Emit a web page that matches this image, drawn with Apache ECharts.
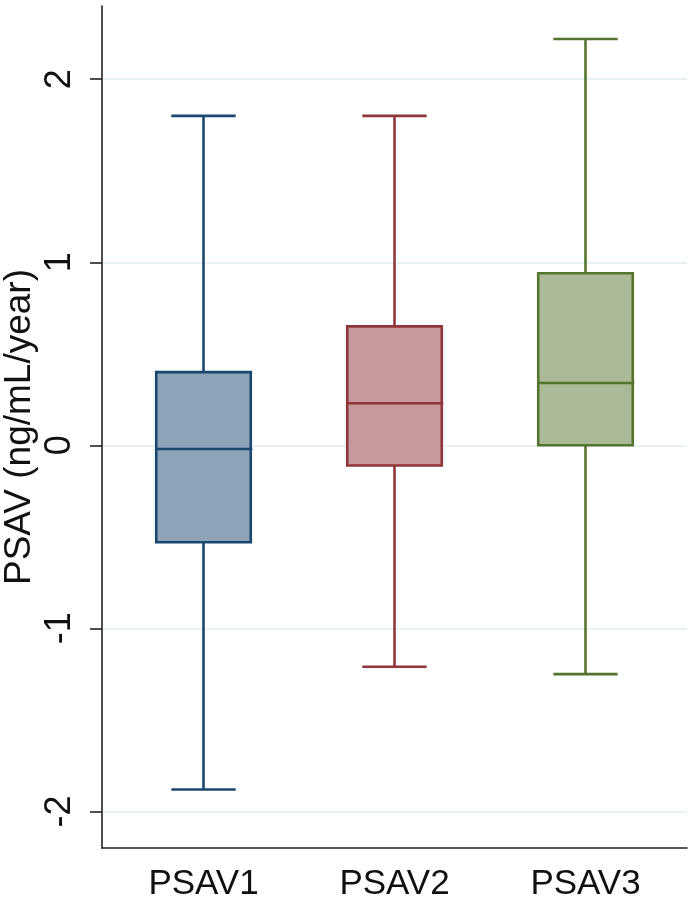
<!DOCTYPE html>
<html>
<head>
<meta charset="utf-8">
<script src="https://cdn.jsdelivr.net/npm/echarts@6/dist/echarts.min.js"></script>
<style>
  html, body { margin: 0; padding: 0; background: #ffffff; }
  #chart { width: 695px; height: 900px; }
</style>
</head>
<body>
<div id="chart"></div>
<script>
// ---- data ----
const categories = ['PSAV1', 'PSAV2', 'PSAV3'];
const lowerWhisker = [-1.88, -1.21, -1.25];
const q1Values     = [-0.53, -0.11, 0.00];
const medians      = [-0.02, 0.23, 0.34];
const q3Values     = [0.40, 0.65, 0.94];
const upperWhisker = [1.80, 1.80, 2.22];
const yTickValues  = [-2, -1, 0, 1, 2];
const yAxisTitle   = 'PSAV (ng/mL/year)';

// ---- styling ----
const strokeColors = ['#1a476f', '#90353b', '#55752f'];
const fillColors   = ['#8ca3b8', '#c69a9d', '#aaba96'];
const FONT = '"Liberation Sans", Arial, sans-serif';

const boxData = categories.map((c, i) => [i, lowerWhisker[i], q1Values[i], medians[i], q3Values[i], upperWhisker[i]]);

const chart = echarts.init(document.getElementById('chart'), null, { renderer: 'canvas' });

const option = {
  backgroundColor: '#ffffff',
  animation: false,
  grid: [
    { left: 108, right: 14, top: 6, bottom: 52, containLabel: false, outerBoundsMode: 'none' },
    { left: 102, right: 8, top: 6, bottom: 52, containLabel: false, outerBoundsMode: 'none' }
  ],
  xAxis: [
    {
      type: 'category', gridIndex: 0, data: categories,
      boundaryGap: true,
      axisLine: { show: false }, axisTick: { show: false },
      axisLabel: { fontFamily: FONT, fontSize: 35, color: '#111', margin: 19 },
      splitLine: { show: false }
    },
    {
      type: 'value', gridIndex: 1, min: 0, max: 1, position: 'bottom',
      axisLine: { show: true, onZero: false, lineStyle: { color: '#222', width: 1.6 } },
      axisTick: { show: false }, axisLabel: { show: false }, splitLine: { show: false }
    }
  ],
  yAxis: [
    {
      type: 'value', gridIndex: 0, min: -2.2, max: 2.4, show: false,
      splitLine: { show: false }
    },
    {
      type: 'value', gridIndex: 1, min: -2.2, max: 2.4, position: 'left',
      name: yAxisTitle, nameLocation: 'middle', nameRotate: 90, nameGap: 64,
      nameMoveOverlap: false,
      nameTextStyle: { fontFamily: FONT, fontSize: 37, color: '#111' },
      axisLine: { show: true, onZero: false, lineStyle: { color: '#222', width: 1.6 } },
      axisTick: { show: true, inside: false, length: 12, customValues: yTickValues, lineStyle: { color: '#222', width: 1.6 } },
      axisLabel: { customValues: yTickValues, rotate: 90, fontFamily: FONT, fontSize: 36, color: '#111', margin: 24 },
      splitLine: { show: true, lineStyle: { color: '#e3ecf1', width: 1.5 } }
    }
  ],
  series: [
    {
      type: 'custom',
      xAxisIndex: 0, yAxisIndex: 0,
      data: boxData,
      encode: { x: 0, y: [1, 2, 3, 4, 5] },
      renderItem: function (params, api) {
        const idx = api.value(0);
        const band = api.size([1, 0])[0];
        const boxW = band * 0.495;
        const capW = band * 0.337;
        const pLo = api.coord([idx, api.value(1)]);
        const pQ1 = api.coord([idx, api.value(2)]);
        const pMed = api.coord([idx, api.value(3)]);
        const pQ3 = api.coord([idx, api.value(4)]);
        const pHi = api.coord([idx, api.value(5)]);
        const cx = pMed[0];
        const stroke = strokeColors[params.dataIndex];
        const fill = fillColors[params.dataIndex];
        const lw = 2.6;
        const lineStyle = { stroke: stroke, lineWidth: lw, fill: null };
        return {
          type: 'group',
          children: [
            { type: 'line', shape: { x1: cx, y1: pHi[1], x2: cx, y2: pQ3[1] }, style: lineStyle },
            { type: 'line', shape: { x1: cx, y1: pQ1[1], x2: cx, y2: pLo[1] }, style: lineStyle },
            { type: 'line', shape: { x1: cx - capW / 2, y1: pHi[1], x2: cx + capW / 2, y2: pHi[1] }, style: lineStyle },
            { type: 'line', shape: { x1: cx - capW / 2, y1: pLo[1], x2: cx + capW / 2, y2: pLo[1] }, style: lineStyle },
            { type: 'rect', shape: { x: cx - boxW / 2, y: pQ3[1], width: boxW, height: pQ1[1] - pQ3[1] },
              style: { fill: fill, stroke: stroke, lineWidth: lw } },
            { type: 'line', shape: { x1: cx - boxW / 2, y1: pMed[1], x2: cx + boxW / 2 + 1.5, y2: pMed[1] }, style: lineStyle }
          ]
        };
      }
    }
  ]
};

chart.setOption(option);
</script>
</body>
</html>
